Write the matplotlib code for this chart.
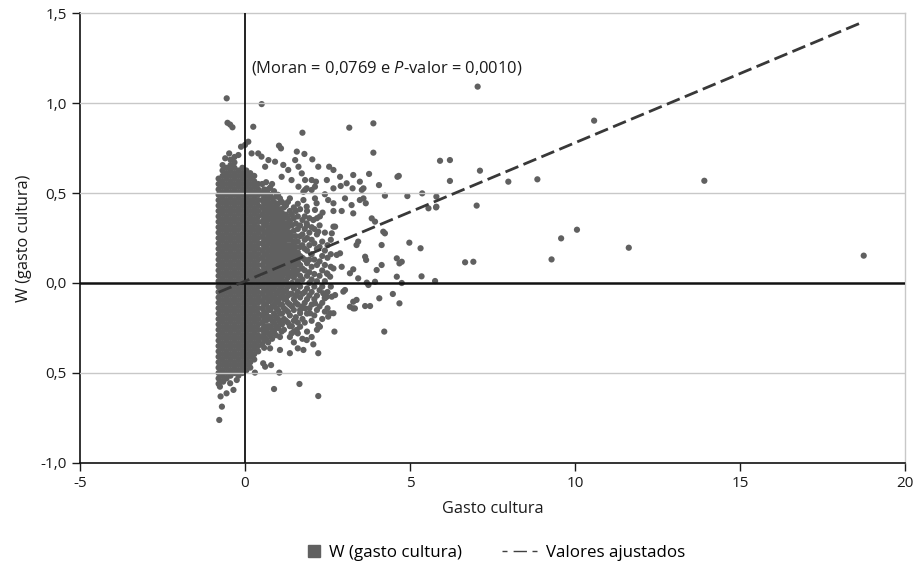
import numpy as np
import matplotlib.pyplot as plt
from matplotlib.lines import Line2D

plt.rcParams['font.family'] = ['Open Sans', 'DejaVu Sans']
plt.rcParams['mathtext.fontset'] = 'custom'
plt.rcParams['mathtext.rm'] = 'Open Sans'
plt.rcParams['mathtext.it'] = 'Open Sans:italic'

# --- data ---
# dense block around x = 0: y levels used by the columns (two staggered sets)
levels_a = [-0.56, -0.53, -0.50, -0.47, -0.44, -0.41, -0.38, -0.35, -0.32, -0.29,
            -0.26, -0.23, -0.20, -0.17, -0.14, -0.11, -0.08, -0.05, -0.02, 0.01,
            0.04, 0.07, 0.10, 0.13, 0.16, 0.19, 0.22, 0.25, 0.28, 0.31, 0.34,
            0.37, 0.40, 0.43, 0.46, 0.49, 0.52, 0.55, 0.58, 0.61, 0.64, 0.67, 0.70]
levels_b = [-0.545, -0.515, -0.485, -0.455, -0.425, -0.395, -0.365, -0.335, -0.305,
            -0.275, -0.245, -0.215, -0.185, -0.155, -0.125, -0.095, -0.065, -0.035,
            -0.005, 0.025, 0.055, 0.085, 0.115, 0.145, 0.175, 0.205, 0.235, 0.265,
            0.295, 0.325, 0.355, 0.385, 0.415, 0.445, 0.475, 0.505, 0.535, 0.565,
            0.595, 0.625, 0.655, 0.685]
core_x = [-0.80, -0.68, -0.56, -0.44, -0.32, -0.20, -0.08, 0.04, 0.16, 0.28, 0.40]
core_lo = [-0.56, -0.545, -0.53, -0.515, -0.50, -0.515, -0.50, -0.485, -0.47, -0.425, -0.38]
core_hi = [0.58, 0.655, 0.64, 0.685, 0.70, 0.625, 0.64, 0.625, 0.61, 0.595, 0.55]

# fan of points right of the axis (one list of y values per x column)
fan = {
    0.52: [-0.34, -0.30, -0.26, -0.22, -0.18, -0.14, -0.10, -0.06, -0.02, 0.02, 0.06,
           0.10, 0.14, 0.18, 0.22, 0.26, 0.30, 0.34, 0.38, 0.42, 0.46, 0.50, 0.55],
    0.58: [-0.36, -0.32, -0.28, -0.24, -0.20, -0.16, -0.12, -0.08, -0.04, 0.00, 0.04,
           0.08, 0.12, 0.16, 0.20, 0.24, 0.28, 0.32, 0.36, 0.40, 0.44, 0.48, 0.52],
    0.64: [-0.31, -0.26, -0.21, -0.17, -0.12, -0.08, -0.04, 0.00, 0.04, 0.08, 0.12,
           0.16, 0.20, 0.24, 0.28, 0.33, 0.37, 0.41, 0.45, 0.50, 0.56],
    0.70: [-0.33, -0.28, -0.24, -0.19, -0.14, -0.10, -0.06, -0.02, 0.02, 0.06, 0.10,
           0.14, 0.18, 0.22, 0.26, 0.30, 0.35, 0.39, 0.43, 0.47, 0.52],
    0.76: [-0.29, -0.24, -0.19, -0.15, -0.10, -0.06, -0.02, 0.02, 0.06, 0.10, 0.14,
           0.18, 0.23, 0.27, 0.31, 0.36, 0.40, 0.44, 0.49, 0.53],
    0.82: [-0.31, -0.26, -0.21, -0.13, -0.08, -0.04, 0.00, 0.04, 0.08, 0.12, 0.16,
           0.20, 0.25, 0.29, 0.33, 0.38, 0.42, 0.47, 0.55],
    0.88: [-0.27, -0.22, -0.17, -0.12, -0.08, -0.03, 0.01, 0.05, 0.09, 0.13, 0.18,
           0.22, 0.26, 0.31, 0.35, 0.40, 0.45, 0.51],
    0.94: [-0.29, -0.24, -0.19, -0.14, -0.10, -0.06, -0.01, 0.03, 0.07, 0.11, 0.15,
           0.20, 0.24, 0.28, 0.33, 0.37, 0.42, 0.48],
    1.00: [-0.25, -0.20, -0.15, -0.10, -0.05, 0.00, 0.04, 0.08, 0.13, 0.17, 0.21,
           0.26, 0.30, 0.35, 0.39, 0.44, 0.49],
    1.06: [-0.30, -0.22, -0.17, -0.12, -0.08, -0.03, 0.02, 0.06, 0.10, 0.15, 0.19,
           0.23, 0.28, 0.32, 0.37, 0.41, 0.47],
    1.12: [-0.23, -0.17, -0.12, -0.07, -0.02, 0.03, 0.07, 0.12, 0.16, 0.21, 0.25,
           0.30, 0.34, 0.39, 0.45],
    1.18: [-0.26, -0.20, -0.14, -0.09, -0.05, 0.00, 0.05, 0.09, 0.14, 0.18, 0.23,
           0.27, 0.32, 0.36, 0.42],
    1.24: [-0.21, -0.15, -0.09, -0.04, 0.01, 0.06, 0.11, 0.15, 0.20, 0.24, 0.29,
           0.33, 0.38, 0.43],
    1.30: [-0.22, -0.16, -0.11, -0.07, -0.02, 0.03, 0.08, 0.12, 0.17, 0.21, 0.26,
           0.31, 0.36, 0.45],
    1.36: [-0.30, -0.24, -0.18, -0.12, -0.06, -0.01, 0.05, 0.10, 0.14, 0.19, 0.24,
           0.28, 0.34, 0.40, 0.47],
    1.42: [-0.24, -0.13, -0.06, 0.00, 0.06, 0.11, 0.16, 0.21, 0.26, 0.32, 0.38],
    1.48: [-0.33, -0.27, -0.21, -0.15, -0.09, -0.03, 0.03, 0.08, 0.13, 0.18, 0.23,
           0.29, 0.36, 0.42],
    1.54: [-0.19, -0.11, -0.07, -0.01, 0.05, 0.10, 0.15, 0.20, 0.26, 0.33, 0.40],
    1.60: [-0.28, -0.22, -0.12, -0.05, 0.01, 0.07, 0.12, 0.17, 0.23, 0.30, 0.37, 0.44],
    1.67: [-0.15, -0.08, -0.02, 0.04, 0.10, 0.15, 0.20, 0.26, 0.32, 0.41],
    1.74: [-0.31, -0.20, -0.13, -0.06, 0.02, 0.08, 0.14, 0.21, 0.27, 0.35],
    1.81: [-0.22, -0.11, -0.05, 0.07, 0.13, 0.19, 0.24, 0.30, 0.37],
    1.88: [-0.27, -0.17, -0.09, -0.03, 0.04, 0.11, 0.18, 0.25, 0.32, 0.40],
    1.95: [-0.14, -0.07, 0.00, 0.06, 0.13, 0.21, 0.28, 0.36],
    2.02: [-0.30, -0.21, -0.12, -0.05, 0.02, 0.09, 0.16, 0.24, 0.31],
    2.10: [-0.18, -0.09, -0.02, 0.05, 0.13, 0.22, 0.30],
    2.18: [-0.26, -0.15, -0.07, 0.01, 0.10, 0.19, 0.27, 0.36],
    2.26: [-0.13, -0.04, 0.04, 0.12, 0.20, 0.32],
    2.34: [-0.20, -0.11, -0.02, 0.07, 0.15, 0.23],
    2.42: [-0.08, 0.01, 0.10, 0.18, 0.28],
    2.50: [-0.14, -0.05, 0.05, 0.14, 0.21],
    2.60: [-0.02, 0.09, 0.16, 0.24],
}

# scattered points
scatter_pts = [
    (-0.555, 1.026), (0.505, 0.994), (-0.53, 0.89), (-0.45, 0.88), (-0.38, 0.865),
    (0.25, 0.868), (1.74, 0.835), (3.16, 0.863), (3.89, 0.887), (3.89, 0.724),
    (1.03, 0.763), (1.09, 0.748), (0.10, 0.785), (-0.12, 0.757), (0.00, 0.767),
    (-0.48, 0.72), (-0.60, 0.693), (-0.20, 0.711), (0.20, 0.72), (0.40, 0.72),
    (0.50, 0.702), (1.57, 0.73), (1.80, 0.717), (2.04, 0.687), (2.22, 0.646),
    (2.55, 0.646), (2.68, 0.628), (0.91, 0.674), (1.16, 0.656), (1.31, 0.628),
    (1.52, 0.683), (1.62, 0.646), (0.71, 0.683), (0.61, 0.646), (1.72, 0.609),
    (1.82, 0.572), (1.41, 0.572), (1.11, 0.59), (2.02, 0.572), (2.12, 0.535),
    (1.82, 0.517), (1.62, 0.535),
    (2.88, 0.59), (3.28, 0.60), (3.76, 0.606), (4.06, 0.544), (4.62, 0.59),
    (4.66, 0.595), (2.48, 0.572), (2.15, 0.563), (3.48, 0.563), (1.87, 0.526),
    (2.68, 0.526), (2.90, 0.539), (3.08, 0.554), (3.26, 0.526), (3.54, 0.517),
    (3.59, 0.526), (2.02, 0.517), (4.24, 0.485), (4.92, 0.483), (5.37, 0.498),
    (5.80, 0.48), (5.80, 0.424), (2.42, 0.493), (2.12, 0.47), (2.17, 0.443),
    (2.12, 0.406), (2.52, 0.461), (2.68, 0.443), (3.03, 0.47), (3.48, 0.461),
    (3.59, 0.47), (3.66, 0.443), (2.68, 0.40), (2.93, 0.40), (2.35, 0.391),
    (3.23, 0.433), (3.28, 0.387), (3.84, 0.359), (3.94, 0.341), (1.77, 0.507),
    (1.77, 0.461), (1.87, 0.424), (2.27, 0.37), (2.07, 0.35), (1.87, 0.331),
    (2.68, 0.313), (2.73, 0.313), (2.22, 0.285), (2.63, 0.276), (3.43, 0.23),
    (3.38, 0.211), (4.19, 0.285), (4.24, 0.276), (4.14, 0.211), (4.98, 0.224),
    (5.32, 0.193), (2.78, 0.156), (2.88, 0.165), (3.64, 0.146), (3.67, 0.128),
    (2.93, 0.09), (3.28, 0.076), (3.18, 0.054), (3.43, 0.026), (4.14, 0.10),
    (3.99, 0.072), (4.60, 0.137), (4.75, 0.118), (4.68, 0.109), (4.60, 0.035),
    (4.75, 0.0), (5.35, 0.037), (5.76, 0.011), (3.74, -0.011), (3.94, 0.007),
    (3.69, 0.002), (2.68, 0.081), (2.48, 0.054), (2.58, 0.035), (5.56, 0.415),
    (5.79, 0.42), (7.02, 0.43), (5.91, 0.679), (6.21, 0.683), (7.12, 0.624),
    (6.21, 0.567), (7.98, 0.563), (8.86, 0.576), (13.92, 0.568), (7.05, 1.091),
    (10.58, 0.902), (6.67, 0.115), (6.92, 0.118), (9.29, 0.131), (9.58, 0.248),
    (10.06, 0.296), (11.63, 0.196), (18.75, 0.152),
    (2.98, -0.048), (3.03, -0.039), (3.28, -0.104), (3.38, -0.094), (3.18, -0.132),
    (3.28, -0.141), (3.33, -0.141), (3.64, -0.128), (3.79, -0.128), (4.07, -0.085),
    (4.48, -0.061), (4.68, -0.113), (4.22, -0.27), (2.71, -0.27), (2.22, -0.39),
    (2.22, -0.628), (1.65, -0.561), (0.88, -0.589), (1.04, -0.498), (0.30, -0.498),
    (0.79, -0.456), (0.55, -0.446), (0.61, -0.465), (1.36, -0.39), (1.60, -0.363),
    (1.77, -0.372), (1.87, -0.317), (2.07, -0.341), (1.11, -0.27), (1.41, -0.28),
    (1.57, -0.26), (1.06, -0.372), (0.76, -0.363), (2.22, -0.233), (2.27, -0.243),
    (2.42, -0.159), (2.58, -0.168), (2.68, -0.168), (2.52, -0.187), (2.37, -0.057),
    (2.48, -0.076), (2.63, -0.076), (2.73, -0.067), (2.42, -0.085), (2.12, -0.113),
    (1.67, -0.168), (1.52, -0.206), (1.67, -0.243), (1.97, -0.168), (1.82, -0.141),
    (-0.74, -0.63), (-0.70, -0.687), (-0.78, -0.761), (-0.76, -0.576), (-0.66, -0.548),
    (-0.56, -0.613), (-0.45, -0.557), (-0.35, -0.594), (-0.25, -0.539),
]

moran_slope = 0.0769
fit_intercept = 0.01

x_ticks = [-5, 0, 5, 10, 15, 20]
y_ticks = [-1.0, -0.5, 0.0, 0.5, 1.0, 1.5]
y_ticklabels = ['-1,0', '0,5', '0,0', '0,5', '1,0', '1,5']

# --- assemble points ---
xs, ys = [], []
for i, cx in enumerate(core_x):
    levels = levels_a if i % 2 == 0 else levels_b
    for ly in levels:
        if core_lo[i] <= ly <= core_hi[i]:
            xs.append(cx)
            ys.append(ly)
for cx, col in fan.items():
    xs += [cx] * len(col)
    ys += col
for px, py in scatter_pts:
    xs.append(px)
    ys.append(py)
xs = np.array(xs)
ys = np.array(ys)

fit_x = np.array([xs.min(), xs.max()])
fit_y = moran_slope * fit_x + fit_intercept

# --- plot ---
point_color = '#606060'
grid_color = '#c8c8c8'
text_color = '#1a1a1a'

fig = plt.figure(figsize=(9.24, 5.66), dpi=100)
ax = fig.add_axes([0.0866, 0.182, 0.8928, 0.795])

ax.scatter(xs, ys, s=20, color=point_color, edgecolors='none', zorder=2)

for gy in [-0.5, 0.5, 1.0]:
    ax.axhline(gy, color=grid_color, lw=1, zorder=3)
ax.axhline(0, color='#111111', lw=1.8, zorder=4)
ax.axvline(0, color='#111111', lw=1.3, zorder=4)

ax.plot(fit_x, fit_y, color='#383838', lw=2, dashes=(5, 2), zorder=5)

ax.text(0.18, 1.194, r'(Moran = 0,0769 e $\mathit{P}$-valor = 0,0010)',
        fontsize=11.9, va='center', ha='left', color=text_color)

ax.set_xlim(-5, 20)
ax.set_ylim(-1.0, 1.5)
ax.set_xticks(x_ticks)
ax.set_xticklabels([str(t) for t in x_ticks])
ax.set_yticks(y_ticks)
ax.set_yticklabels(y_ticklabels)
ax.tick_params(labelsize=11, colors=text_color, length=6, width=1)

for side in ['top', 'right']:
    ax.spines[side].set_color(grid_color)
    ax.spines[side].set_linewidth(1)
for side in ['left', 'bottom']:
    ax.spines[side].set_color('#111111')
    ax.spines[side].set_linewidth(1.2)

ax.set_xlabel('Gasto cultura', fontsize=11.7, color=text_color, labelpad=7)
ax.set_ylabel('W (gasto cultura)', fontsize=11.7, color=text_color, labelpad=6)

# legend: two entries, each with its own handle length
leg1 = fig.legend([Line2D([], [], marker='s', color=point_color, markersize=9,
                          linestyle='none')],
                  ['W (gasto cultura)'], loc='center left',
                  bbox_to_anchor=(0.315, 0.023), frameon=False, fontsize=12.2,
                  handlelength=0.9, handletextpad=0.45)
leg2 = fig.legend([Line2D([], [], color='#404040', lw=1,
                          linestyle=(0, (3.6, 4.4, 9.6, 4.0, 3.6, 60)))],
                  ['Valores ajustados'], loc='center left',
                  bbox_to_anchor=(0.527, 0.023), frameon=False, fontsize=12.2,
                  handlelength=2.07, handletextpad=0.5)

fig.savefig('out.png', dpi=100)
